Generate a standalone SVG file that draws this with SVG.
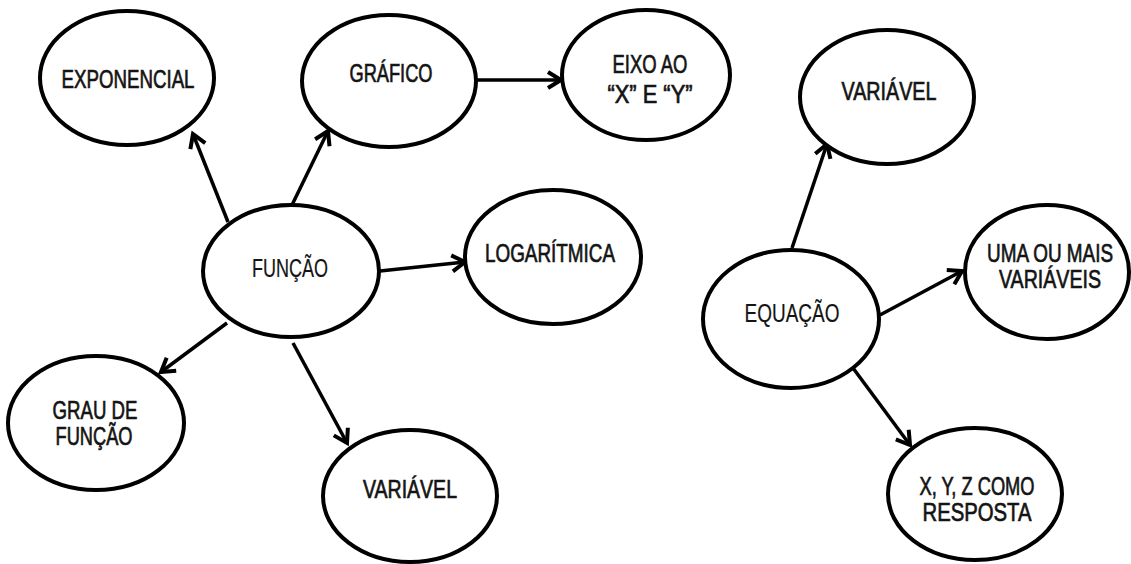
<svg xmlns="http://www.w3.org/2000/svg" width="1131" height="564" viewBox="0 0 1131 564">
  <style>
    .node ellipse { fill: #ffffff; stroke: #000000; stroke-width: 4; }
    .node text { font-family: "Liberation Sans", Arial, sans-serif; font-size: 25.5px; fill: #141414; stroke: #141414; stroke-width: 0.7; text-anchor: middle; }
    .node text.light { stroke-width: 0.2; }
    .edge { stroke: #000000; stroke-width: 3.5; fill: none; marker-end: url(#chev); }
  </style>
  <defs>
    <marker id="chev" viewBox="0 0 20 20" refX="16" refY="10" markerWidth="20" markerHeight="20" markerUnits="userSpaceOnUse" orient="auto">
      <path d="M3,2 L16,10 L3,18" fill="none" stroke="#000000" stroke-width="4" stroke-linejoin="miter"/>
    </marker>
  </defs>
  <rect width="1131" height="564" fill="#ffffff"/>

  <!-- connectors -->
  <g id="connectors">
    <line class="edge" x1="228" y1="222" x2="193" y2="134"/>
    <line class="edge" x1="292" y1="205" x2="328" y2="131"/>
    <line class="edge" x1="477" y1="80" x2="561" y2="80"/>
    <line class="edge" x1="380" y1="271" x2="465" y2="262"/>
    <line class="edge" x1="227" y1="323" x2="161" y2="372"/>
    <line class="edge" x1="293" y1="343" x2="347" y2="443"/>
    <line class="edge" x1="792" y1="248" x2="827" y2="144"/>
    <line class="edge" x1="880" y1="315" x2="962" y2="271"/>
    <line class="edge" x1="853" y1="368" x2="910" y2="445"/>
  </g>

  <!-- function map -->
  <g id="node-exponencial" class="node">
    <ellipse cx="127" cy="78" rx="87" ry="67"/>
    <text x="128" y="88" textLength="133" lengthAdjust="spacingAndGlyphs">EXPONENCIAL</text>
  </g>
  <g id="node-grafico" class="node">
    <ellipse cx="389" cy="81" rx="87" ry="66"/>
    <text x="391" y="82" textLength="83" lengthAdjust="spacingAndGlyphs">GRÁFICO</text>
  </g>
  <g id="node-eixo" class="node">
    <ellipse cx="646" cy="75" rx="84" ry="65"/>
    <text x="650" y="73" textLength="75" lengthAdjust="spacingAndGlyphs">EIXO AO</text>
    <text x="650" y="103" textLength="85" lengthAdjust="spacingAndGlyphs">“X” E “Y”</text>
  </g>
  <g id="node-funcao" class="node">
    <ellipse cx="291" cy="271" rx="88" ry="66"/>
    <text class="light" x="290" y="277" textLength="76" lengthAdjust="spacingAndGlyphs">FUNÇÃO</text>
  </g>
  <g id="node-logaritmica" class="node">
    <ellipse cx="553" cy="257" rx="88" ry="67"/>
    <text x="550" y="262" textLength="130" lengthAdjust="spacingAndGlyphs">LOGARÍTMICA</text>
  </g>
  <g id="node-grau" class="node">
    <ellipse cx="96" cy="423" rx="88" ry="67"/>
    <text x="95" y="419" textLength="85" lengthAdjust="spacingAndGlyphs">GRAU DE</text>
    <text x="94" y="445" textLength="77" lengthAdjust="spacingAndGlyphs">FUNÇÃO</text>
  </g>
  <g id="node-variavel-funcao" class="node">
    <ellipse cx="410" cy="496" rx="87" ry="66"/>
    <text x="410" y="498" textLength="94" lengthAdjust="spacingAndGlyphs">VARIÁVEL</text>
  </g>

  <!-- equation map -->
  <g id="node-variavel-equacao" class="node">
    <ellipse cx="887" cy="97" rx="87" ry="67"/>
    <text x="889" y="100" textLength="95" lengthAdjust="spacingAndGlyphs">VARIÁVEL</text>
  </g>
  <g id="node-equacao" class="node">
    <ellipse cx="791" cy="319" rx="88" ry="69"/>
    <text class="light" x="792" y="322" textLength="95" lengthAdjust="spacingAndGlyphs">EQUAÇÃO</text>
  </g>
  <g id="node-uma-ou-mais" class="node">
    <ellipse cx="1047" cy="272" rx="82" ry="67"/>
    <text x="1050" y="262" textLength="126" lengthAdjust="spacingAndGlyphs">UMA OU MAIS</text>
    <text x="1050" y="288" textLength="102" lengthAdjust="spacingAndGlyphs">VARIÁVEIS</text>
  </g>
  <g id="node-xyz" class="node">
    <ellipse cx="975" cy="494" rx="87" ry="66"/>
    <text x="977" y="495" textLength="115" lengthAdjust="spacingAndGlyphs">X, Y, Z COMO</text>
    <text x="977" y="521" textLength="109" lengthAdjust="spacingAndGlyphs">RESPOSTA</text>
  </g>
</svg>
